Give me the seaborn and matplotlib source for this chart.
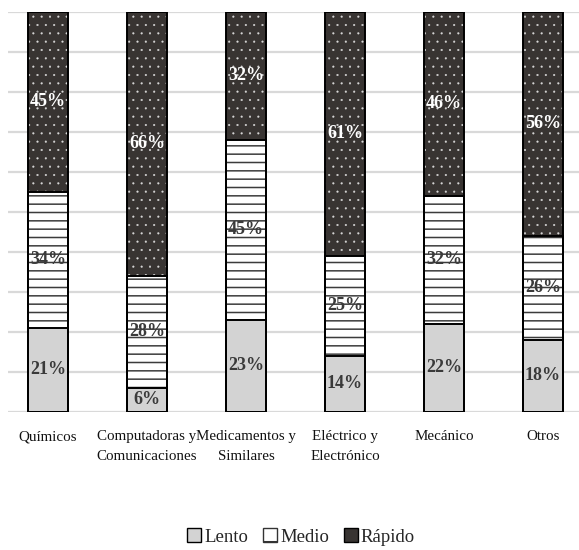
import matplotlib
matplotlib.use("Agg")
import matplotlib.pyplot as plt
import seaborn as sns
import pandas as pd
from matplotlib.patches import Patch

# Data: share of each speed class per sector (%)
categorias = ["Químicos", "Computadoras y\nComunicaciones", "Medicamentos y\nSimilares",
              "Eléctrico y\nElectrónico", "Mecánico", "Otros"]
lento = [21, 6, 23, 14, 22, 18]
medio = [34, 28, 45, 25, 32, 26]
rapido = [45, 66, 32, 61, 46, 56]
series = ["Lento", "Medio", "Rápido"]

sns.set_theme(style="white")
plt.rcParams["font.family"] = ["Liberation Serif", "DejaVu Serif"]

C_LENTO = "#d3d3d3"
C_RAPIDO = "#383432"
C_TXT = "#3a3a3a"

df = pd.DataFrame({"cat": categorias, "Lento": lento, "Medio": medio, "Rápido": rapido})
df["top_medio"] = df["Lento"] + df["Medio"]
df["top_rapido"] = df["top_medio"] + df["Rápido"]

fig = plt.figure(figsize=(5.79, 5.5), dpi=100)
ax = fig.add_axes([8 / 579, 138 / 550, 571 / 579, 400 / 550])

W = 0.404


def layer(col, face, hatch, hatch_col, hatch_lw):
    plt.rcParams["hatch.linewidth"] = hatch_lw
    n0 = len(ax.patches)
    sns.barplot(data=df, x="cat", y=col, order=categorias, color=face, width=W,
                ax=ax, errorbar=None, saturation=1)
    for p in ax.patches[n0:]:
        p.set_facecolor(face)
        p.set_hatch(hatch)
        p.set_edgecolor(hatch_col)
        p.set_linewidth(0)
        if hasattr(p, "set_hatch_linewidth"):
            p.set_hatch_linewidth(hatch_lw)
        p.set_zorder(2)
    # black outline drawn over the filled bars
    n1 = len(ax.patches)
    sns.barplot(data=df, x="cat", y=col, order=categorias, color=face, width=W,
                ax=ax, errorbar=None, saturation=1)
    for p in ax.patches[n1:]:
        p.set_facecolor("none")
        p.set_hatch(None)
        p.set_edgecolor("black")
        p.set_linewidth(1.4)
        p.set_zorder(3)


layer("top_rapido", C_RAPIDO, "..", "#d8d8d8", 0.3)
layer("top_medio", "white", "--", "#3c3c3c", 1.1)
layer("Lento", C_LENTO, None, C_LENTO, 1.0)

# Segment labels
for i in range(len(categorias)):
    segs = [(0, lento[i], C_TXT), (lento[i], medio[i], C_TXT),
            (lento[i] + medio[i], rapido[i], "white")]
    for base, val, col in segs:
        ax.text(i, base + val / 2, f"{val}%", ha="center", va="center",
                fontsize=13, fontweight="bold", color=col, zorder=5)

ax.set_ylim(0, 100)
ax.set_xlim(-0.404, 5.364)
ax.set_yticks(range(0, 101, 10))
ax.set_yticklabels([])
ax.grid(axis="y", color="#d9d9d9", linewidth=1.6, zorder=0)
ax.set_axisbelow(True)
for s in ax.spines.values():
    s.set_visible(False)
ax.set_xlabel("")
ax.set_ylabel("")
ax.set_xticks(range(len(categorias)))
ax.set_xticklabels(categorias, fontsize=10.8, color="#111111")
ax.tick_params(axis="both", length=0)
ax.tick_params(axis="x", pad=13)
for lab in ax.get_xticklabels():
    lab.set_linespacing(1.7)

plt.rcParams["hatch.linewidth"] = 1.0
handles = [
    Patch(facecolor=C_LENTO, edgecolor="black", linewidth=1.0, label="Lento"),
    Patch(facecolor="white", edgecolor="#333333", hatch="-", linewidth=1.0, label="Medio"),
    Patch(facecolor=C_RAPIDO, edgecolor="black", linewidth=1.0, label="Rápido"),
]
fig.legend(handles=handles, loc="center", bbox_to_anchor=(0.52, 0.024), ncol=3,
           frameon=False, fontsize=13.5, handlelength=0.75, handleheight=0.75,
           handletextpad=0.15, columnspacing=0.8, borderaxespad=0)

fig.savefig("out.png", dpi=100)
